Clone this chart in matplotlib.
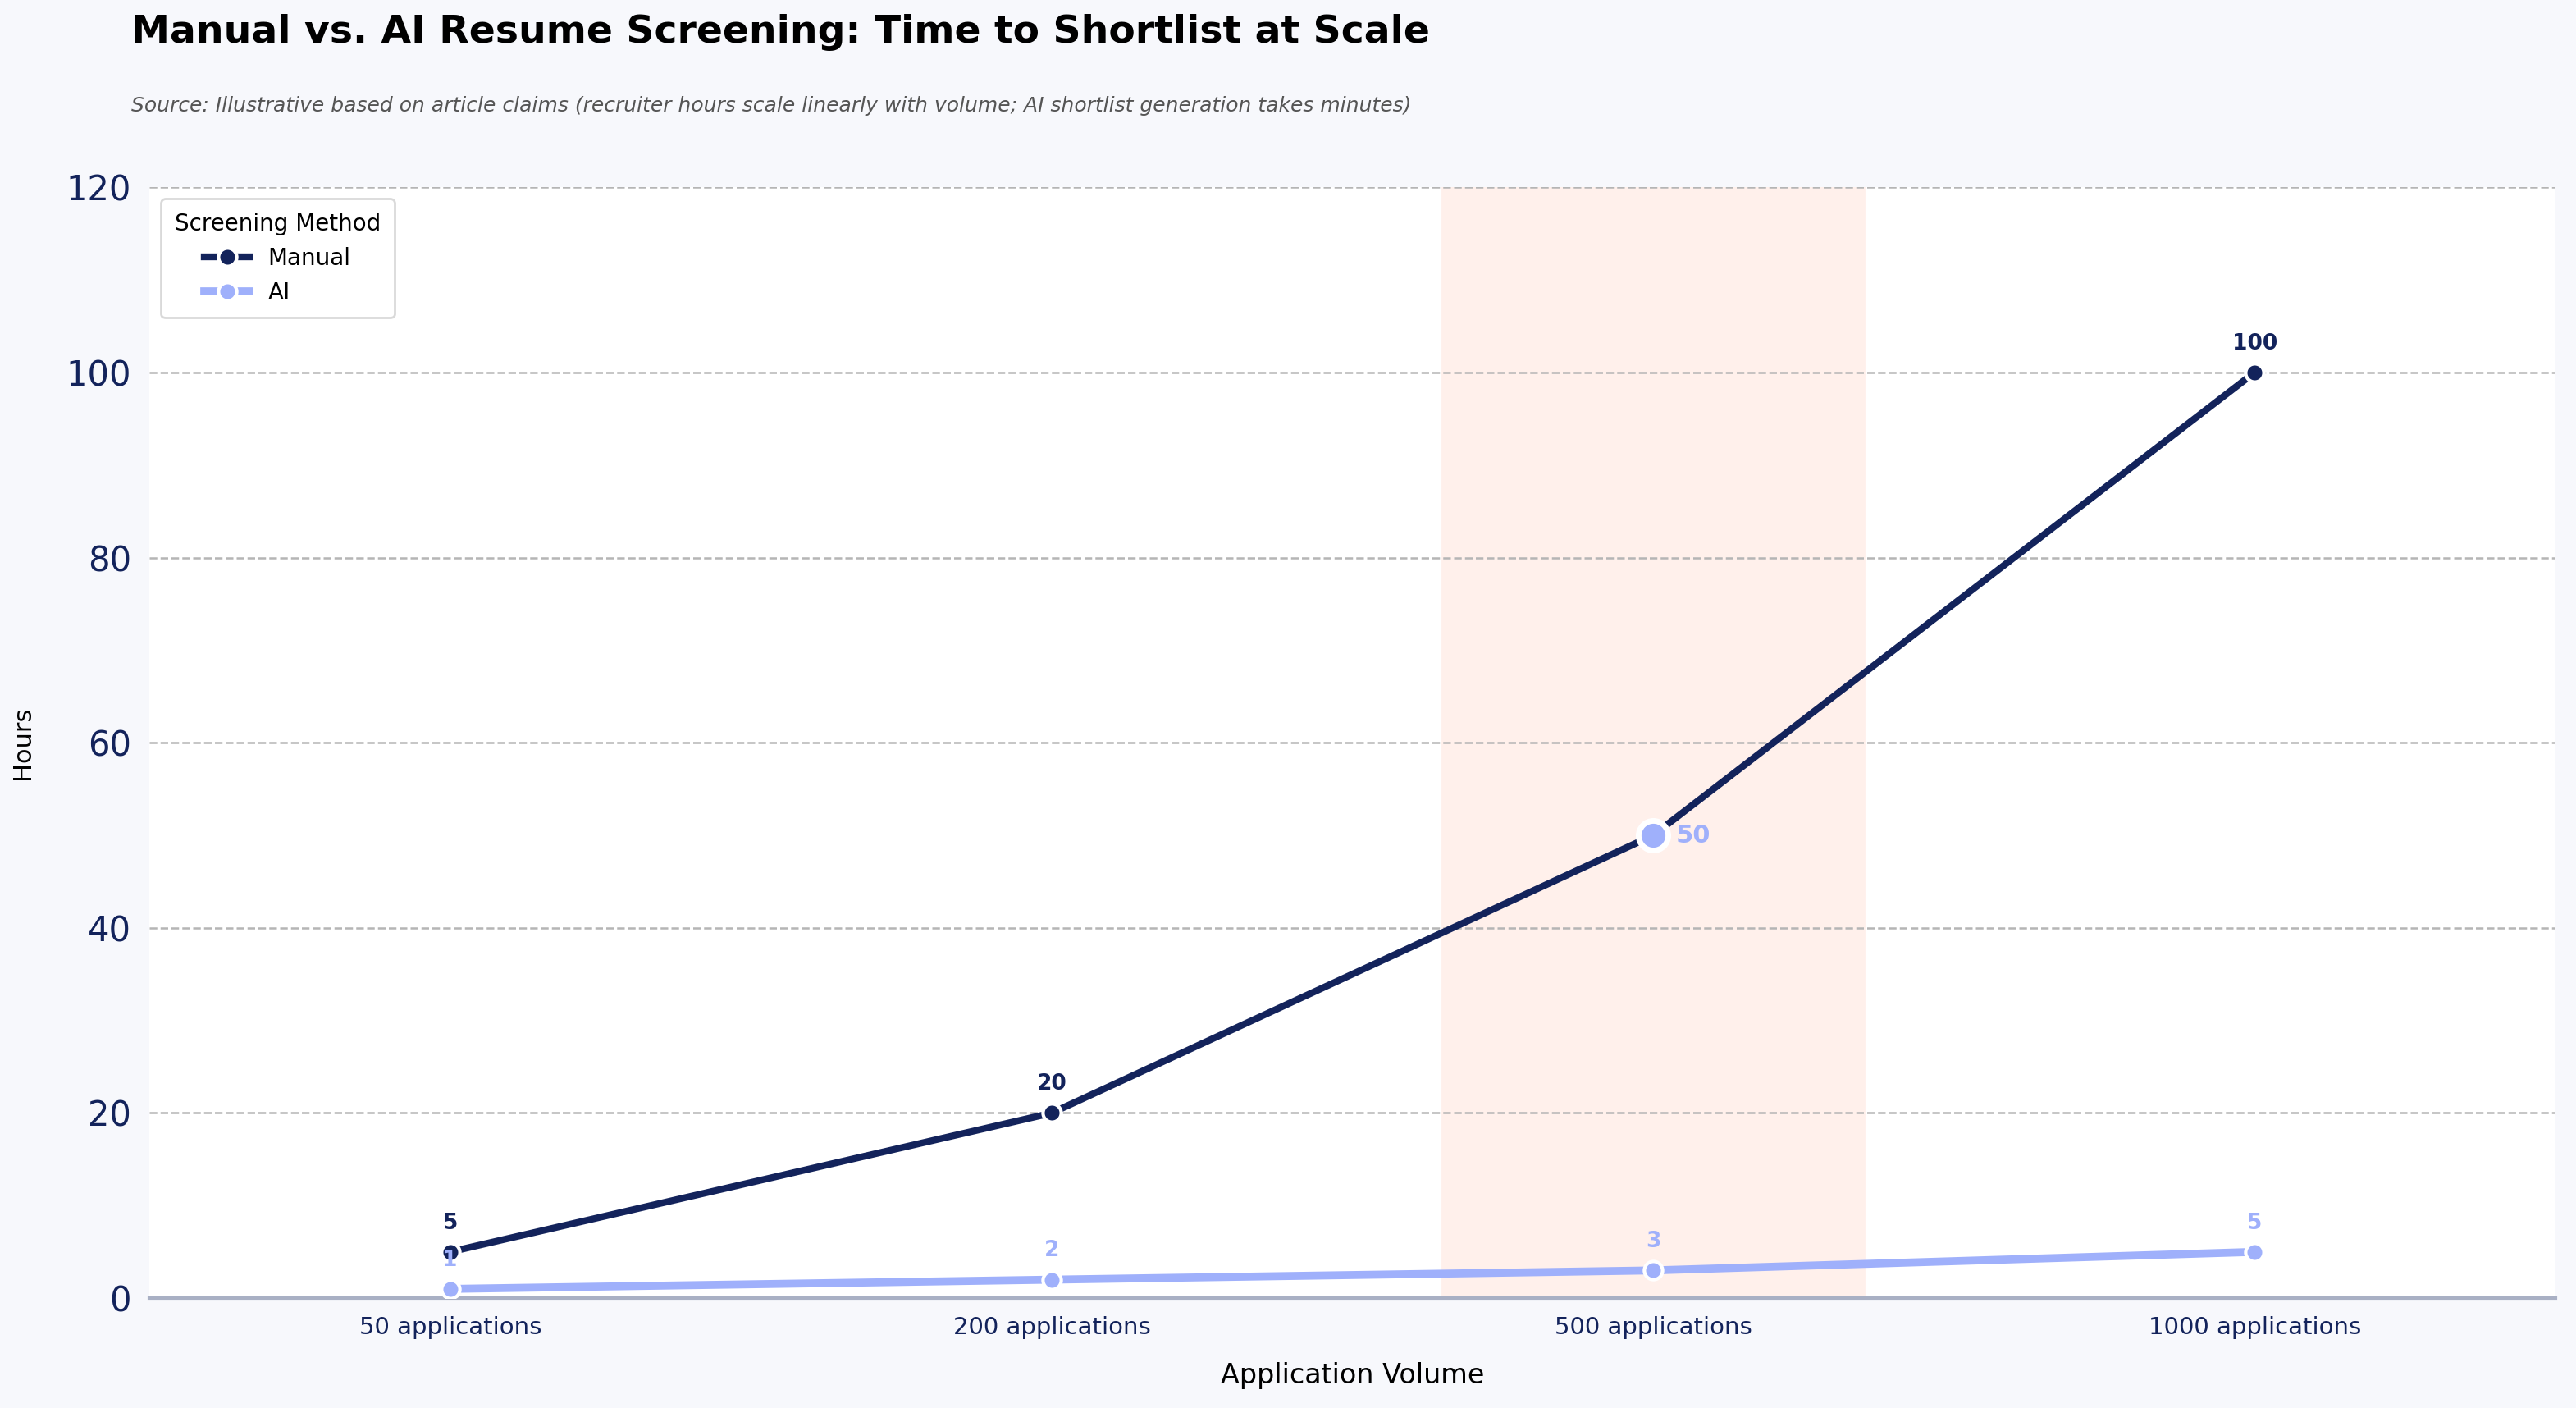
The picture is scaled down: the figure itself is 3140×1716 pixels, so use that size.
import matplotlib.pyplot as plt

volumes = ["50 applications", "200 applications", "500 applications", "1000 applications"]
manual_hours = [5, 20, 50, 100]
ai_hours = [1, 2, 3, 5]
highlight_idx = 2

navy = "#13235b"
light = "#9fb0fb"

fig = plt.figure(figsize=(15.7, 8.58), dpi=200, facecolor="#f7f8fc")
ax = fig.add_axes([0.058, 0.078, 0.934, 0.789])
ax.set_facecolor("white")

x = list(range(len(volumes)))
ax.axvspan(highlight_idx - 0.35, highlight_idx + 0.35, color="#fff0eb", zorder=0)

ax.plot(x, manual_hours, color=navy, lw=3, marker="o", ms=8,
        mec="white", mew=1.5, label="Manual", zorder=3)
ax.plot(x, ai_hours, color=light, lw=3.5, marker="o", ms=8,
        mec="white", mew=1.5, label="AI", zorder=3)

# highlight marker on manual line
ax.plot(highlight_idx, manual_hours[highlight_idx], marker="o", ms=13,
        color=light, mec="white", mew=2.5, zorder=4)
ax.annotate(str(manual_hours[highlight_idx]), (highlight_idx, manual_hours[highlight_idx]),
            xytext=(10, 0), textcoords="offset points", ha="left", va="center",
            color=light, fontsize=11, fontweight="bold", zorder=5)

for i, v in enumerate(manual_hours):
    if i == highlight_idx:
        continue
    ax.annotate(str(v), (i, v), xytext=(0, 8), textcoords="offset points",
                ha="center", va="bottom", color=navy, fontsize=9.5, fontweight="bold")
for i, v in enumerate(ai_hours):
    ax.annotate(str(v), (i, v), xytext=(0, 8), textcoords="offset points",
                ha="center", va="bottom", color=light, fontsize=9.5, fontweight="bold")

ax.set_xlim(-0.5, 3.5)
ax.set_ylim(0, 120)
ax.set_xticks(x)
ax.set_xticklabels(volumes)
ax.set_yticks(range(0, 121, 20))
ax.tick_params(axis="x", labelsize=10.5, colors=navy, length=0, pad=8)
ax.tick_params(axis="y", labelsize=15, colors=navy, length=0, pad=8)
ax.grid(axis="y", ls="--", color="#b5b5b5", lw=0.9)
ax.set_axisbelow(True)
for s in ["top", "right", "left"]:
    ax.spines[s].set_visible(False)
ax.spines["bottom"].set_color("#a9b0c4")
ax.spines["bottom"].set_linewidth(1.5)

ax.set_xlabel("Application Volume", fontsize=12, labelpad=10)
ax.set_ylabel("Hours", fontsize=11, labelpad=14)

leg = ax.legend(title="Screening Method", loc="upper left", fontsize=10,
                title_fontsize=10, frameon=True, borderpad=0.6)
leg.get_frame().set_edgecolor("#d0d0d0")

fig.text(0.051, 0.977, "Manual vs. AI Resume Screening: Time to Shortlist at Scale",
         fontsize=17, fontweight="bold", va="center")
fig.text(0.051, 0.925, "Source: Illustrative based on article claims (recruiter hours scale linearly with volume; AI shortlist generation takes minutes)",
         fontsize=9, style="italic", color="#555555", va="center")

fig.savefig("out.png", dpi=200, facecolor=fig.get_facecolor())
